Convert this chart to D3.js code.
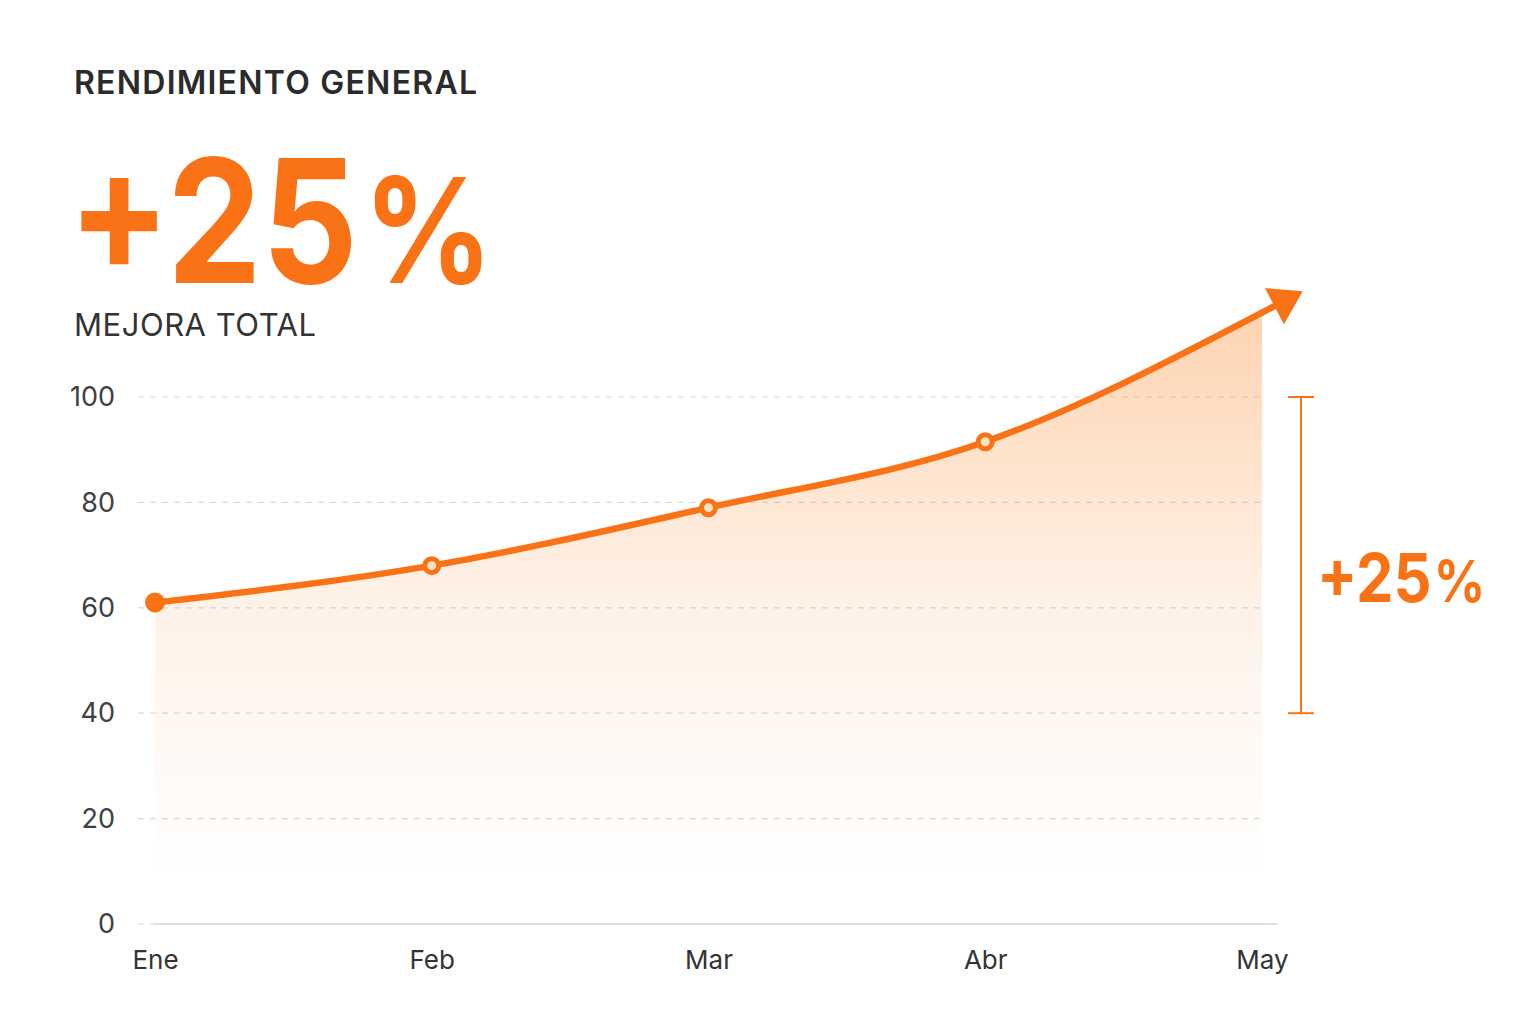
<!DOCTYPE html>
<html>
<head>
<meta charset="utf-8">
<script src="https://cdn.jsdelivr.net/npm/d3@7"></script>
<style>
  html, body { margin: 0; padding: 0; background: #ffffff; }
  svg { display: block; font-family: Inter, "Noto Sans", sans-serif; }
</style>
</head>
<body>
<svg id="chart" width="1536" height="1024"></svg>
<script>
// ---- data ----
const months = ["Ene", "Feb", "Mar", "Abr", "May"];
const values = [61, 68, 79, 91.5, 116];
const yTicks = [0, 20, 40, 60, 80, 100];
const bracketRange = [40, 100];
const titleText = "RENDIMIENTO GENERAL";
const headlineText = "+25%";
const subtitleText = "MEJORA TOTAL";
const bracketLabel = "+25%";

// ---- setup ----
const orange = "#f97316";
const svg = d3.select("#chart");
const x = d3.scalePoint().domain(months).range([155, 1262]);
const y = d3.scaleLinear().domain([0, 100]).range([924, 397]);
const data = months.map((m, i) => ({ m, v: values[i] }));

const defs = svg.append("defs");
const grad = defs.append("linearGradient")
  .attr("id", "areaGrad").attr("gradientUnits", "userSpaceOnUse")
  .attr("x1", 0).attr("x2", 0).attr("y1", y(d3.max(values))).attr("y2", y(10));
grad.append("stop").attr("offset", "0%").attr("stop-color", "#fb923c").attr("stop-opacity", 0.4);
grad.append("stop").attr("offset", "50%").attr("stop-color", "#fb923c").attr("stop-opacity", 0.13);
grad.append("stop").attr("offset", "100%").attr("stop-color", "#fb923c").attr("stop-opacity", 0.0);

const marker = defs.append("marker")
  .attr("id", "arrow").attr("markerUnits", "userSpaceOnUse")
  .attr("viewBox", "0 -22 50 44").attr("markerWidth", 50).attr("markerHeight", 44)
  .attr("refX", 0).attr("refY", 0).attr("orient", "auto");
marker.append("path").attr("d", "M0,-3.25 L17,-3.25 L17,3.25 L0,3.25 Z").attr("fill", orange);
marker.append("path").attr("d", "M14,-20.5 L46,0 L14,20.5 Z").attr("fill", orange);

// big number with a smaller percent sign
function bigNumber(x0, y0, str, size, pctSize, sx) {
  const g = svg.append("g").attr("transform", `translate(${x0},${y0}) scale(${sx},1)`)
    .attr("fill", orange).attr("font-weight", 700);
  const t1 = g.append("text").attr("x", 0).attr("y", 0).attr("font-size", size).text(str.slice(0, -1));
  const w = t1.node().getComputedTextLength();
  g.append("text").attr("x", w + size * 0.035).attr("y", 0).attr("font-size", pctSize).text(str.slice(-1));
  return g;
}

// ---- titles ----
svg.append("text").attr("x", 74).attr("y", 94)
  .attr("font-size", 32).attr("font-weight", 600).attr("fill", "#2b2b2b")
  .attr("textLength", 403).attr("lengthAdjust", "spacing").text(titleText);
bigNumber(68, 283, headlineText, 172, 146, 0.875);
svg.append("text").attr("x", 74).attr("y", 336)
  .attr("font-size", 31).attr("font-weight", 400).attr("fill", "#333")
  .attr("textLength", 242).attr("lengthAdjust", "spacing").text(subtitleText);

// ---- grid ----
svg.append("g").selectAll("line").data(yTicks).join("line")
  .attr("x1", 138).attr("x2", 1262)
  .attr("y1", d => y(d)).attr("y2", d => y(d))
  .attr("stroke", "#d9d9d9").attr("stroke-width", 1.2).attr("stroke-dasharray", "6,6");

// ---- area ----
const area = d3.area().x(d => x(d.m)).y0(y(0)).y1(d => y(d.v)).curve(d3.curveMonotoneX);
svg.append("path").datum(data).attr("d", area).attr("fill", "url(#areaGrad)");

// baseline
svg.append("line").attr("x1", 155).attr("x2", 1278).attr("y1", y(0)).attr("y2", y(0))
  .attr("stroke", "#d6d6d6").attr("stroke-width", 1.5);

// ---- axes ----
const yAxis = d3.axisLeft(y).tickValues(yTicks).tickSize(0).tickPadding(0);
const gy = svg.append("g").attr("transform", "translate(115,0)").call(yAxis);
gy.select(".domain").remove();
gy.selectAll("text").attr("font-size", 27).attr("fill", "#404040").attr("font-family", "Inter, sans-serif");

const xAxis = d3.axisBottom(x).tickSize(0).tickPadding(0);
const gx = svg.append("g").attr("transform", "translate(0,953)").call(xAxis);
gx.select(".domain").remove();
gx.selectAll("text").attr("font-size", 26).attr("fill", "#333").attr("dy", "0.6em")
  .attr("font-family", "Inter, sans-serif");

// ---- line ----
const line = d3.line().x(d => x(d.m)).y(d => y(d.v)).curve(d3.curveMonotoneX);
svg.append("path").datum(data).attr("d", line)
  .attr("fill", "none").attr("stroke", orange).attr("stroke-width", 6.5)
  .attr("stroke-linecap", "round").attr("marker-end", "url(#arrow)");

// ---- points ----
svg.append("circle").attr("cx", x(months[0])).attr("cy", y(values[0]))
  .attr("r", 10).attr("fill", orange);
svg.append("g").selectAll("circle").data(data.slice(1, 4)).join("circle")
  .attr("cx", d => x(d.m)).attr("cy", d => y(d.v)).attr("r", 7)
  .attr("fill", "#fde2c6").attr("stroke", orange).attr("stroke-width", 5);

// ---- bracket ----
const bx = 1301;
const br = svg.append("g").attr("stroke", orange).attr("stroke-width", 2);
br.append("line").attr("x1", bx).attr("x2", bx).attr("y1", y(bracketRange[1])).attr("y2", y(bracketRange[0]));
br.append("line").attr("x1", bx - 13).attr("x2", bx + 13).attr("y1", y(bracketRange[1])).attr("y2", y(bracketRange[1]));
br.append("line").attr("x1", bx - 13).attr("x2", bx + 13).attr("y1", y(bracketRange[0])).attr("y2", y(bracketRange[0]));
bigNumber(1317, 602, bracketLabel, 68, 58, 0.875);
</script>
</body>
</html>
